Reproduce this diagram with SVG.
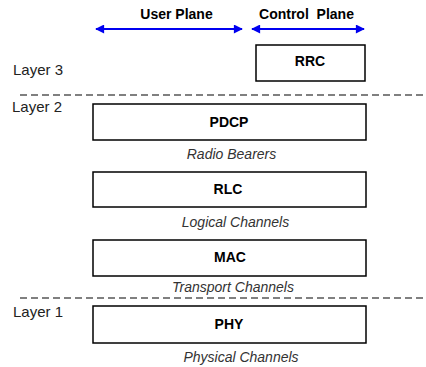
<svg xmlns="http://www.w3.org/2000/svg" width="426" height="367" viewBox="0 0 426 367">
<style>
.box{fill:#fff;stroke:#000;stroke-width:1.5}
.bt{font-family:"Liberation Sans",Arial,sans-serif;font-size:14px;font-weight:bold;text-anchor:middle;fill:#000}
.it{font-family:"Liberation Sans",Arial,sans-serif;font-size:14px;font-style:italic;text-anchor:middle;fill:#333}
.lay{font-family:"Liberation Sans",Arial,sans-serif;font-size:15px;fill:#222}
.dash{stroke:#808080;stroke-width:2;stroke-dasharray:7,4;fill:none}
.arr{stroke:#0000f0;stroke-width:2;fill:none;marker-start:url(#ah);marker-end:url(#ah)}
</style>
<defs>
<marker id="ah" viewBox="0 0 10 10" refX="9" refY="5" markerWidth="5.5" markerHeight="4.5" orient="auto-start-reverse" markerUnits="strokeWidth">
<path d="M0,0 L10,5 L0,10 z" fill="#0000f0"/>
</marker>
</defs>
<rect width="426" height="367" fill="#fff"/>
<g id="connectors">
<line class="arr" x1="96" y1="29" x2="242" y2="29"/>
<line class="arr" x1="252" y1="29" x2="364" y2="29"/>
<line class="dash" x1="20" y1="95" x2="426" y2="95"/>
<line class="dash" x1="20" y1="298" x2="426" y2="298"/>
</g>
<g id="labels">
<text class="bt" x="176.5" y="19">User Plane</text>
<text class="bt" x="306.5" y="19" xml:space="preserve">Control  Plane</text>
<text class="lay" x="13" y="75">Layer 3</text>
<text class="lay" x="12" y="112">Layer 2</text>
<text class="lay" x="13" y="317">Layer 1</text>
</g>
<g id="rrc"><rect class="box" x="256" y="45" width="109" height="36"/><text class="bt" x="310" y="66">RRC</text></g>
<g id="pdcp"><rect class="box" x="93" y="104" width="273" height="36"/><text class="bt" x="229" y="127">PDCP</text></g>
<text class="it" x="231.5" y="159">Radio Bearers</text>
<g id="rlc"><rect class="box" x="93" y="172" width="273" height="35"/><text class="bt" x="228" y="194">RLC</text></g>
<text class="it" x="235.5" y="227">Logical Channels</text>
<g id="mac"><rect class="box" x="93" y="240" width="273" height="36"/><text class="bt" x="230" y="262">MAC</text></g>
<text class="it" x="233" y="292">Transport Channels</text>
<g id="phy"><rect class="box" x="93" y="306" width="273" height="37"/><text class="bt" x="229" y="329">PHY</text></g>
<text class="it" x="241" y="362">Physical Channels</text>
</svg>
